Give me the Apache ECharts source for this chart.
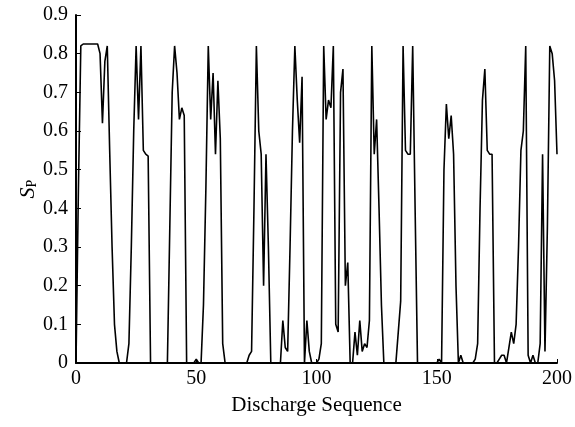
<!DOCTYPE html>
<html>
<head>
<meta charset="utf-8">
<script src="https://cdn.jsdelivr.net/npm/echarts@6/dist/echarts.min.js"></script>
<style>
  html, body { margin: 0; padding: 0; background: #fff; }
  #chart { width: 575px; height: 427px; }
</style>
</head>
<body>
<div id="chart"></div>
<script>
// S_P value for each discharge in the sequence (index = discharge number)
var sp = [
  0, 0.45, 0.82, 0.825, 0.825, 0.825, 0.825, 0.825, 0.825, 0.825,
  0.8, 0.62, 0.78, 0.82, 0.55, 0.3, 0.1, 0.03, 0, 0,
  0, 0, 0.05, 0.3, 0.6, 0.82, 0.63, 0.82, 0.55, 0.54,
  0.535, 0, 0, 0, 0, 0, 0, 0, 0, 0.35,
  0.7, 0.82, 0.75, 0.63, 0.66, 0.64, 0, 0, 0, 0,
  0.01, 0, 0, 0.15, 0.45, 0.82, 0.63, 0.75, 0.54, 0.73,
  0.58, 0.05, 0, 0, 0, 0, 0, 0, 0, 0,
  0, 0, 0.02, 0.03, 0.4, 0.82, 0.6, 0.54, 0.2, 0.54,
  0.3, 0, 0, 0, 0, 0, 0.11, 0.04, 0.03, 0.3,
  0.6, 0.82, 0.68, 0.57, 0.74, 0, 0.11, 0.03, 0, 0,
  0, 0.01, 0.05, 0.82, 0.63, 0.68, 0.66, 0.82, 0.1, 0.08,
  0.7, 0.76, 0.2, 0.26, 0, 0, 0.08, 0.02, 0.11, 0.03,
  0.05, 0.04, 0.11, 0.82, 0.54, 0.63, 0.4, 0.15, 0, 0,
  0, 0, 0, 0, 0.08, 0.16, 0.82, 0.55, 0.54, 0.54,
  0.82, 0.4, 0, 0, 0, 0, 0, 0, 0, 0,
  0, 0.01, 0, 0.5, 0.67, 0.58, 0.64, 0.54, 0.2, 0,
  0.02, 0, 0, 0, 0, 0, 0.01, 0.05, 0.4, 0.68,
  0.76, 0.55, 0.54, 0.54, 0, 0, 0.01, 0.02, 0.02, 0,
  0.04, 0.08, 0.05, 0.1, 0.3, 0.55, 0.6, 0.82, 0.02, 0,
  0.02, 0, 0, 0.05, 0.54, 0.03, 0.35, 0.82, 0.8, 0.73,
  0.54
];
var xTicks = { min: 0, max: 200, interval: 50 };
var yTicks = { min: 0, max: 0.9, interval: 0.1 };

var chart = echarts.init(document.getElementById('chart'));
var font = 'Liberation Serif';

var option = {
    backgroundColor: '#fff',
    animation: false,
    grid: {
        left: 76,
        right: 11,
        top: 15,
        bottom: 64
    },
    xAxis: {
        type: 'value',
        min: xTicks.min,
        max: xTicks.max,
        interval: xTicks.interval,
        name: 'Discharge Sequence',
        nameLocation: 'middle',
        nameGap: 32,
        nameTextStyle: { fontFamily: font, fontSize: 21, color: '#000' },
        axisLine: { lineStyle: { color: '#000', width: 2 } },
        axisTick: { inside: true, length: 4, lineStyle: { color: '#000' } },
        axisLabel: { fontFamily: font, fontSize: 20, color: '#000', margin: 6 },
        splitLine: { show: false }
    },
    yAxis: {
        type: 'value',
        min: yTicks.min,
        max: yTicks.max,
        interval: yTicks.interval,
        name: '{s|S}{p|P}',
        nameLocation: 'middle',
        nameGap: 37,
        nameMoveOverlap: false,
        nameRotate: 90,
        nameTextStyle: {
            color: '#000',
            rich: {
                s: { fontFamily: font, fontSize: 22, fontStyle: 'italic', color: '#000' },
                p: { fontFamily: font, fontSize: 14, color: '#000', verticalAlign: 'bottom', padding: [8, 0, 0, 0] }
            }
        },
        axisLine: { show: true, lineStyle: { color: '#000', width: 2 } },
        axisTick: { show: true, inside: true, length: 5, lineStyle: { color: '#000' } },
        axisLabel: {
            fontFamily: font, fontSize: 20, color: '#000', margin: 8,
            formatter: function (v) { return v === 0 ? '0' : v.toFixed(1); }
        },
        splitLine: { show: false }
    },
    series: [{
        type: 'line',
        data: sp.map(function (v, i) { return [i, v]; }),
        showSymbol: false,
        lineStyle: { color: '#000', width: 1.6 },
        clip: true
    }]
};
chart.setOption(option);
</script>
</body>
</html>
